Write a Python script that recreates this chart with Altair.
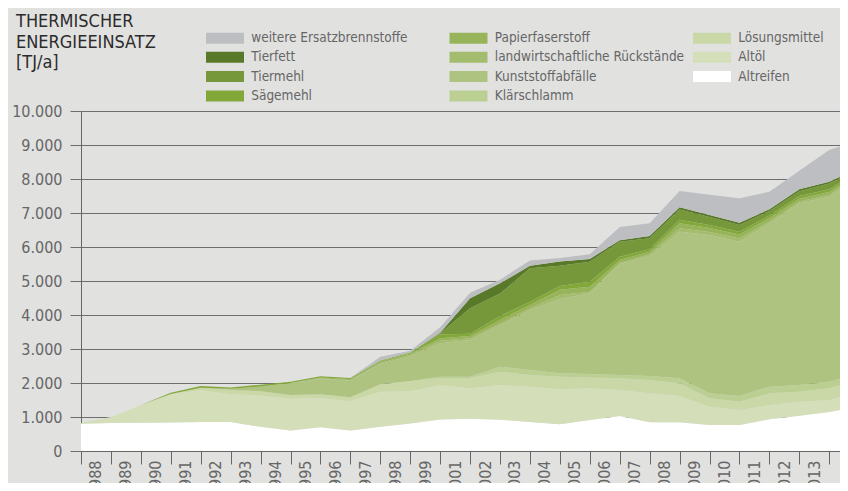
import altair as alt
import pandas as pd

FONT = "DejaVu Sans Condensed, DejaVu Sans, sans-serif"

title_lines = ["THERMISCHER", "ENERGIEEINSATZ", "[TJ/a]"]

# x-axis labels as printed in the source (2000 is not printed)
x_labels = ["1988", "1989", "1990", "1991", "1992", "1993", "1994", "1995", "1996",
            "1997", "1998", "1999", "2001", "2002", "2003", "2004", "2005", "2006",
            "2007", "2008", "2009", "2010", "2011", "2012", "2013", "2014"]
# data point index (27 points, the last one runs off the right edge)
points = list(range(27))

altreifen = [800, 820, 830, 840, 850, 850, 710, 600, 700, 600, 710, 810, 930, 950, 920,
             850, 784, 912, 1029, 843, 843, 765, 765, 931, 1040, 1150, 1310]
altoel = [30, 180, 520, 840, 940, 830, 920, 940, 860, 860, 1035, 950, 1010, 893, 1021,
          1042, 1030, 931, 765, 853, 777, 539, 441, 422, 411, 350, 420]
loesungsmittel = [0, 0, 0, 0, 70, 120, 130, 110, 110, 120, 215, 300, 210, 307, 392,
                  343, 372, 317, 343, 392, 370, 245, 245, 343, 294, 343, 350]
klaerschlamm = [0, 0, 0, 0, 0, 0, 0, 0, 0, 0, 0, 0, 36, 36, 147,
                147, 98, 105, 98, 118, 147, 147, 167, 196, 196, 196, 190]
kunststoff = [0, 0, 0, 0, 0, 30, 140, 350, 450, 490, 600, 730, 984, 1079, 1220,
              1765, 2186, 2372, 3265, 3529, 4313, 4654, 4539, 4804, 5343, 5441, 5820]
landw = [0, 0, 0, 0, 0, 0, 0, 0, 20, 20, 30, 40, 70, 49, 50,
         49, 120, 49, 40, 49, 100, 90, 93, 64, 56, 60, 50]
papier = [0, 0, 0, 0, 0, 0, 0, 0, 20, 30, 50, 40, 74, 66, 100,
          98, 150, 147, 78, 79, 150, 120, 120, 90, 80, 80, 60]
saegemehl = [0, 0, 0, 30, 50, 40, 50, 40, 40, 30, 20, 30, 116, 70, 120,
             98, 110, 147, 98, 68, 100, 90, 80, 80, 80, 80, 50]
tiermehl = [0, 0, 0, 0, 0, 0, 0, 0, 0, 0, 0, 0, 30, 746, 660,
            981, 600, 589, 441, 324, 300, 230, 200, 130, 140, 170, 40]
tierfett = [0, 0, 0, 0, 0, 0, 0, 0, 0, 0, 0, 0, 20, 294, 301,
            77, 120, 81, 43, 69, 70, 60, 66, 48, 56, 52, 40]
weitere = [0, 0, 0, 0, 0, 0, 0, 0, 0, 0, 110, 50, 160, 167, 109,
           150, 110, 140, 390, 376, 480, 600, 715, 519, 544, 931, 800]

# stacking order, bottom to top
stack_names = ["Altreifen", "Altöl", "Lösungsmittel", "Klärschlamm", "Kunststoffabfälle",
               "landwirtschaftliche Rückstände", "Papierfaserstoff", "Sägemehl",
               "Tiermehl", "Tierfett", "weitere Ersatzbrennstoffe"]
stack_values = [altreifen, altoel, loesungsmittel, klaerschlamm, kunststoff, landw,
                papier, saegemehl, tiermehl, tierfett, weitere]
stack_colors = ["#ffffff", "#d4dfba", "#c9d8a6", "#bccf93", "#afc380", "#a4bc6e",
                "#98b45a", "#82a83a", "#76983a", "#587a28", "#bdbec1"]

# legend order (filled column by column)
legend_order = ["weitere Ersatzbrennstoffe", "Tierfett", "Tiermehl", "Sägemehl",
                "Papierfaserstoff", "landwirtschaftliche Rückstände", "Kunststoffabfälle",
                "Klärschlamm", "Lösungsmittel", "Altöl", "Altreifen"]
color_of = dict(zip(stack_names, stack_colors))
legend_colors = [color_of[n] for n in legend_order]

rows = []
for rank, (name, vals) in enumerate(zip(stack_names, stack_values)):
    for p, v in zip(points, vals):
        rows.append({"series": name, "pos": p, "value": v, "rank": rank})
df = pd.DataFrame(rows)

label_js = "[" + ",".join("'" + s + "'" for s in x_labels) + "]"
x_axis_values = [k * 0.5 for k in range(0, 52)]

area = alt.Chart(df).mark_area(clip=True, interpolate="linear").encode(
    x=alt.X("pos:Q",
            scale=alt.Scale(domain=[0, 25.36], nice=False, zero=False),
            axis=alt.Axis(values=x_axis_values, title=None, grid=False,
                          labelExpr=f"(datum.value % 1 == 0.5 && floor(datum.value) < {len(x_labels)}) ? {label_js}[floor(datum.value)] : ''",
                          labelAngle=270, labelAlign="right", labelBaseline="middle",
                          labelPadding=-4, labelFlush=False, labelOverlap=False,
                          labelFont=FONT, labelFontSize=16, labelColor="#666666",
                          tickSize=13, tickColor="#666666", tickWidth=1,
                          tickOpacity={"condition": {"test": "datum.value % 1 == 0", "value": 1}, "value": 0},
                          domainColor="#666666", domainWidth=1)),
    y=alt.Y("value:Q", stack="zero",
            scale=alt.Scale(domain=[0, 10000], nice=False),
            axis=alt.Axis(values=list(range(0, 10001, 1000)), title=None,
                          labelExpr="replace(format(datum.value, ','), ',', '.')",
                          grid=True, gridColor="#6e6e6e", gridWidth=1,
                          tickSize=11, tickColor="#6e6e6e", labelPadding=8,
                          labelFont=FONT, labelFontSize=16, labelColor="#666666",
                          domainColor="#666666", domainWidth=1)),
    color=alt.Color("series:N",
                    scale=alt.Scale(domain=legend_order, range=legend_colors),
                    legend=alt.Legend(orient="none", legendX=123, legendY=-80,
                                      columns=3, gridAlign="all", title=None,
                                      symbolType="M-4,-1.158L4,-1.158L4,1.158L-4,1.158Z",
                                      symbolSize=90.25, symbolStrokeWidth=0,
                                      symbolOpacity=1, symbolOffset=14.25,
                                      labelFont=FONT, labelFontSize=13.5,
                                      labelColor="#666666", labelOffset=19.5,
                                      columnPadding=6.5, rowPadding=4.4,
                                      labelLimit=300)),
    order=alt.Order("rank:Q", sort="ascending"),
)

title_df = pd.DataFrame({"t": ["\n".join(title_lines)]})
title = alt.Chart(title_df).mark_text(
    align="left", baseline="top", lineBreak="\n", font=FONT, fontSize=18,
    lineHeight=20.5, color="#2b2b2b"
).encode(text="t:N", x=alt.value(-65), y=alt.value(-98))

chart = alt.layer(area, title).properties(
    width=759, height=340,
    autosize=alt.AutoSizeParams(type="none"),
    padding={"left": 73, "top": 103, "right": 0, "bottom": 32},
).configure(background="#e1e1e0").configure_view(stroke=None)

chart.save("out.html", embed_options={"renderer": "svg", "actions": False})
